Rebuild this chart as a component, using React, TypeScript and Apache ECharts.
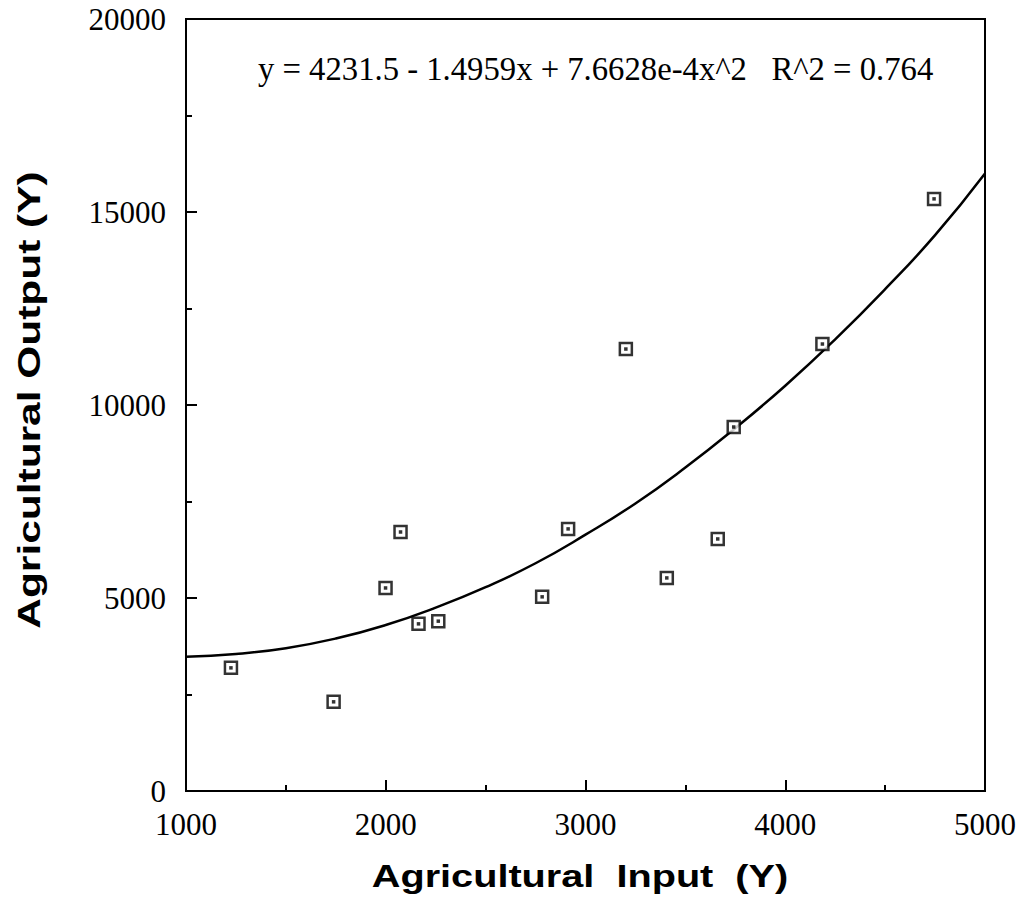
import React, { useEffect, useRef } from "react";
import * as echarts from "echarts";

const pointX = [1225, 1739, 1999, 2074, 2164, 2263, 2783, 2913, 3202, 3407, 3662, 3742, 4186, 4745];
const pointY = [3190, 2310, 5260, 6710, 4330, 4400, 5030, 6790, 11450, 5520, 6530, 9430, 11580, 15340];

const curveX = [1000, 1250, 1500, 1750, 2000, 2250, 2500, 2750, 3000, 3250, 3500, 3750, 4000, 4250, 4500, 4750, 5000];
const curveY = [3480, 3550, 3700, 3950, 4300, 4750, 5280, 5900, 6640, 7450, 8380, 9400, 10500, 11700, 13000, 14400, 16000];

const equationText = "y = 4231.5 - 1.4959x + 7.6628e-4x^2   R^2 = 0.764";
const xTitle = "Agricultural  Input  (Y)";
const yTitle = "Agricultural Output (Y)";

export default function App() {
  const ref = useRef<HTMLDivElement>(null);
  useEffect(() => {
    if (!ref.current) return;
    const chart = echarts.init(ref.current, null, { renderer: "svg" });
    const points = pointX.map((x, i) => [x, pointY[i]]);
    const curve = curveX.map((x, i) => [x, curveY[i]]);
    const serif = "'Liberation Serif', 'Times New Roman', serif";
    const sans = "'Liberation Sans', Arial, sans-serif";
    chart.setOption({
      animation: false,
      backgroundColor: "#ffffff",
      grid: { left: 186, right: 32, top: 19, bottom: 121, show: true, borderColor: "#000", borderWidth: 2, backgroundColor: "transparent" },
      xAxis: {
        type: "value",
        min: 1000,
        max: 5000,
        interval: 1000,
        axisLine: { show: true, lineStyle: { color: "#000", width: 2 } },
        axisTick: { show: true, inside: true, length: 11, lineStyle: { color: "#000", width: 2 } },
        minorTick: { show: true, splitNumber: 2, length: 6, lineStyle: { color: "#000", width: 2 } },
        splitLine: { show: false },
        axisLabel: { color: "#000", fontFamily: serif, fontSize: 31, margin: 18, formatter: (v: number) => String(v) },
      },
      yAxis: {
        type: "value",
        min: 0,
        max: 20000,
        interval: 5000,
        axisLine: { show: true, lineStyle: { color: "#000", width: 2 } },
        axisTick: { show: true, inside: true, length: 11, lineStyle: { color: "#000", width: 2 } },
        minorTick: { show: true, splitNumber: 2, length: 6, lineStyle: { color: "#000", width: 2 } },
        splitLine: { show: false },
        axisLabel: { color: "#000", fontFamily: serif, fontSize: 31, margin: 20, formatter: (v: number) => String(v) },
      },
      graphic: [
        {
          type: "text",
          left: 258,
          top: 52,
          style: { text: equationText, fill: "#000", font: `32.7px ${serif}` },
        },
        {
          type: "text",
          x: 580,
          y: 876,
          scaleX: 1.24,
          style: { text: xTitle, fill: "#000", font: `bold 32px ${sans}`, align: "center", verticalAlign: "middle" },
        },
        {
          type: "text",
          x: 29,
          y: 400,
          rotation: Math.PI / 2,
          scaleX: 1.37,
          style: { text: yTitle, fill: "#000", font: `bold 31px ${sans}`, align: "center", verticalAlign: "middle" },
        },
      ],
      series: [
        {
          type: "line",
          data: curve,
          smooth: true,
          showSymbol: false,
          lineStyle: { color: "#000", width: 2.5 },
          z: 2,
        },
        {
          type: "scatter",
          data: points,
          symbol: "rect",
          symbolSize: 12,
          itemStyle: { color: "#fff", borderColor: "#000", borderWidth: 2.5 },
          z: 3,
        },
        {
          type: "scatter",
          data: points,
          symbol: "rect",
          symbolSize: 3.5,
          itemStyle: { color: "#000" },
          z: 4,
        },
      ],
    });
    return () => chart.dispose();
  }, []);
  return <div ref={ref} style={{ width: 1019, height: 912, position: "absolute", left: 0, top: 0 }} />;
}
